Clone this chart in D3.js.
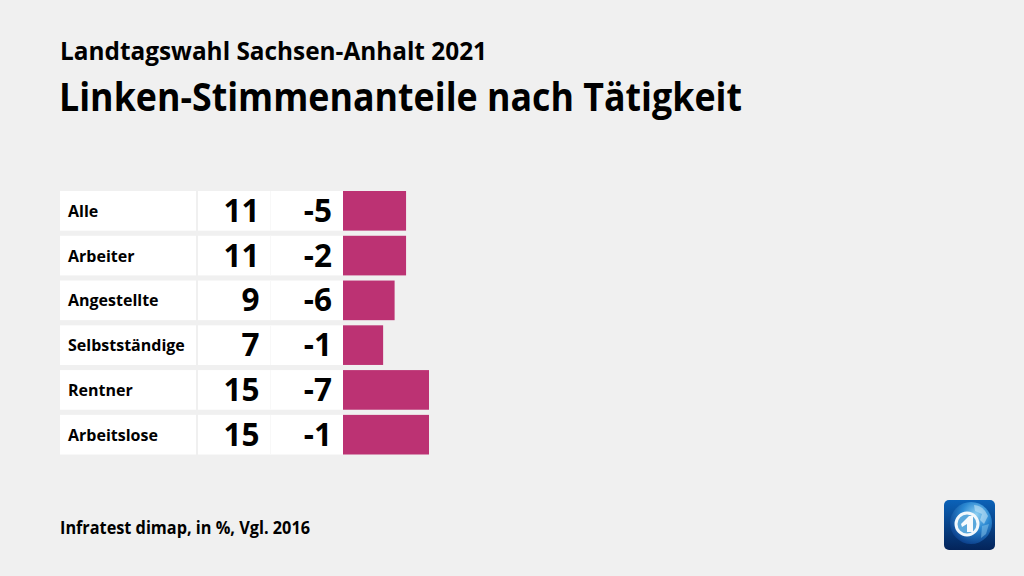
<!DOCTYPE html>
<html>
<head>
<meta charset="utf-8">
<script src="https://cdn.jsdelivr.net/npm/d3@7"></script>
<style>
  html, body { margin: 0; padding: 0; background: #f0f0f0; }
  svg { display: block; }
  text { font-family: "Open Sans", sans-serif; fill: #000; }
</style>
</head>
<body>
<div id="chart"></div>
<script>
var categories = ["Alle", "Arbeiter", "Angestellte", "Selbstständige", "Rentner", "Arbeitslose"];
var shares = [11, 11, 9, 7, 15, 15];
var changes = [-5, -2, -6, -1, -7, -1];

var width = 1024, height = 576;

var svg = d3.select("#chart").append("svg")
  .attr("width", width)
  .attr("height", height);

svg.append("text").attr("x", 60).attr("y", 60)
  .attr("font-size", 25).attr("font-weight", 700)
  .attr("textLength", 427).attr("lengthAdjust", "spacingAndGlyphs")
  .text("Landtagswahl Sachsen-Anhalt 2021");

svg.append("text").attr("x", 59).attr("y", 111)
  .attr("font-size", 39).attr("font-weight", 700)
  .attr("textLength", 683).attr("lengthAdjust", "spacingAndGlyphs")
  .text("Linken-Stimmenanteile nach Tätigkeit");

svg.append("text").attr("x", 60).attr("y", 534)
  .attr("font-size", 17).attr("font-weight", 700)
  .attr("textLength", 250).attr("lengthAdjust", "spacingAndGlyphs")
  .text("Infratest dimap, in %, Vgl. 2016");

// rows
var y = d3.scaleBand().domain(categories).range([191, 454.5]).paddingInner(0.115);
// 15 -> 86px wide
var x = d3.scaleLinear().domain([0, 15]).range([343, 429]);

var rows = svg.selectAll("g.row").data(categories).enter().append("g")
  .attr("class", "row")
  .attr("transform", function(d) { return "translate(0," + y(d) + ")"; });

var h = y.bandwidth();

rows.append("rect").attr("x", 60).attr("width", 136).attr("height", h).attr("fill", "#fff");
rows.append("rect").attr("x", 198).attr("width", 145).attr("height", h).attr("fill", "#fff");
// faint divider between the two number columns
rows.append("rect").attr("x", 270).attr("width", 1).attr("height", h).attr("fill", "#f8f8f8");

rows.append("text").attr("x", 68).attr("y", h / 2 + 6)
  .attr("font-size", 16).attr("font-weight", 700)
  .text(function(d) { return d; });

rows.append("text").attr("x", 259.5).attr("y", h / 2 + 11)
  .attr("text-anchor", "end").attr("font-size", 31.5).attr("font-weight", 700)
  .text(function(d, i) { return shares[i]; });

rows.append("text").attr("x", 332).attr("y", h / 2 + 11)
  .attr("text-anchor", "end").attr("font-size", 31.5).attr("font-weight", 700)
  .text(function(d, i) { return changes[i]; });

rows.append("rect")
  .attr("x", x(0))
  .attr("width", function(d, i) { return x(shares[i]) - x(0); })
  .attr("height", h)
  .attr("fill", "#bc3273");

// logo
var defs = svg.append("defs");
var bg = defs.append("linearGradient").attr("id", "logoBg").attr("x1", 0).attr("y1", 0).attr("x2", 0).attr("y2", 1);
bg.append("stop").attr("offset", 0).attr("stop-color", "#0b62b8");
bg.append("stop").attr("offset", 1).attr("stop-color", "#04245a");
var globe = defs.append("radialGradient").attr("id", "logoGlobe").attr("cx", 0.62).attr("cy", 0.3).attr("r", 0.75);
globe.append("stop").attr("offset", 0).attr("stop-color", "#8fd0f2");
globe.append("stop").attr("offset", 0.45).attr("stop-color", "#2a88d2");
globe.append("stop").attr("offset", 1).attr("stop-color", "#0a3c88");

var logo = svg.append("g").attr("transform", "translate(944,500)");
logo.append("rect").attr("width", 51).attr("height", 50).attr("rx", 5).attr("fill", "url(#logoBg)");
logo.append("circle").attr("cx", 27).attr("cy", 23).attr("r", 21).attr("fill", "url(#logoGlobe)");
logo.append("path").attr("d", "M30 5 Q40 6 44 16 L40 24 L36 20 L38 14 L31 11 Z").attr("fill", "#bfe3f6").attr("opacity", 0.6);
logo.append("path").attr("d", "M38 26 L45 24 L42 34 L37 38 Z").attr("fill", "#8cc8ec").attr("opacity", 0.5);
logo.append("circle").attr("cx", 23).attr("cy", 24).attr("r", 11).attr("fill", "#5aa8dc").attr("stroke", "#f2f8fc").attr("stroke-width", 3);
logo.append("path").attr("d", "M17 24 L25 16 L29 16 L29 32 L23 32 L23 24 L18 27 Z").attr("fill", "#f6fafd");
</script>
</body>
</html>
